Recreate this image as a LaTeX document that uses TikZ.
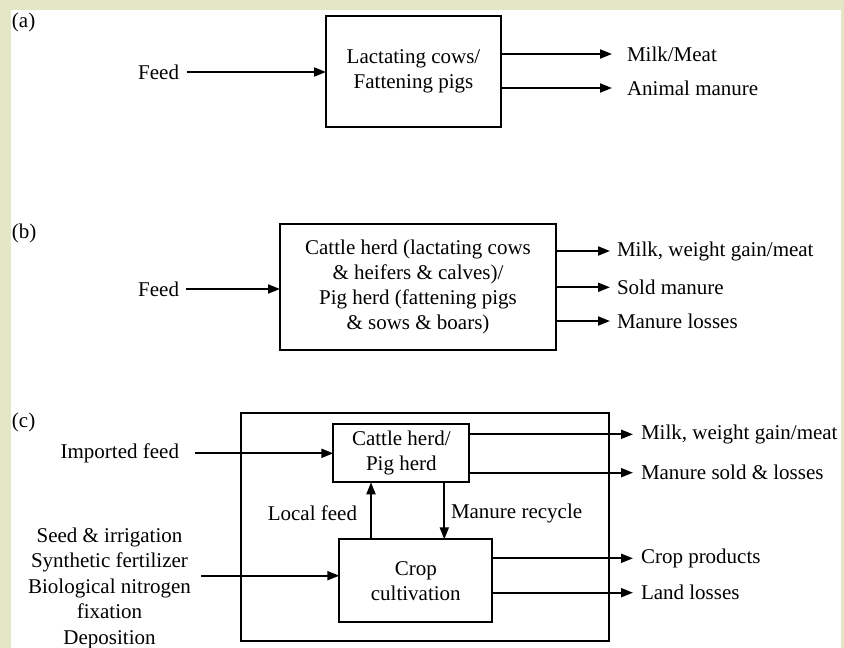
\documentclass[tikz,border=0pt]{standalone}
\usepackage{fontspec}
\setmainfont{Liberation Serif}
\usetikzlibrary{arrows.meta}
\definecolor{bgc}{RGB}{227,231,198}
\begin{document}
\begin{tikzpicture}[x=1pt,y=-1pt,
  font=\fontsize{21}{25}\selectfont,
  ln/.style={line width=2pt},
  arr/.style={ln,-{Triangle[length=12pt,width=9pt]}},
  box/.style={draw,ln,align=center,inner sep=0pt,outer sep=0pt},
  lab/.style={inner sep=0pt,outer sep=0pt},
  ]
\useasboundingbox (0,0) rectangle (844,648);
\fill[bgc] (0,0) rectangle (844,648);
\fill[white] (11,10) rectangle (841,648);

% ---------- (a)
\node[lab,anchor=west] (la) at (12,22.5) {(a)};
\node[box,minimum width=175pt,minimum height=111pt] (boxA) at (413.5,71.5) {Lactating cows/\\Fattening pigs};
\node[lab,anchor=east,inner xsep=8pt] (feedA) at (187,72) {Feed};
\draw[arr] (feedA.east) -- (feedA.east -| boxA.west);
\node[lab,anchor=west,inner xsep=15pt] (milkA) at (612,54) {Milk/Meat};
\node[lab,anchor=west,inner xsep=15pt] (manA) at (612,88) {Animal manure};
\draw[arr] (milkA.west -| boxA.east) -- (milkA.west);
\draw[arr] (manA.west -| boxA.east) -- (manA.west);

% ---------- (b)
\node[lab,anchor=west] (lb) at (12,233) {(b)};
\node[box,minimum width=276pt,minimum height=126pt] (boxB) at (418,287) {Cattle herd (lactating cows\\\& heifers \& calves)/\\Pig herd (fattening pigs\\\& sows \& boars)};
\node[lab,anchor=east,inner xsep=7pt] (feedB) at (186,289) {Feed};
\draw[arr] (feedB.east) -- (feedB.east -| boxB.west);
\node[lab,anchor=west,inner xsep=7pt] (milkB) at (610,251) {Milk, weight gain/meat};
\node[lab,anchor=west,inner xsep=7pt] (soldB) at (610,287.3) {Sold manure};
\node[lab,anchor=west,inner xsep=7pt] (lossB) at (610,321) {Manure losses};
\draw[arr] (milkB.west -| boxB.east) -- (milkB.west);
\draw[arr] (soldB.west -| boxB.east) -- (soldB.west);
\draw[arr] (lossB.west -| boxB.east) -- (lossB.west);

% ---------- (c)
\node[lab,anchor=west] (lc) at (12,422) {(c)};
\node[draw,ln,minimum width=368pt,minimum height=228pt,inner sep=0pt,outer sep=0pt] (farm) at (425,527) {};
\node[box,fill=white,minimum width=136pt,minimum height=58pt] (herd) at (401.3,453.3) {Cattle herd/\\Pig herd};
\node[box,fill=white,minimum width=153pt,minimum height=83pt] (crop) at (415.8,580.8) {Crop\\cultivation};
\node[lab,anchor=east,inner xsep=16pt] (impf) at (195,453.3) {Imported feed};
\draw[arr] (impf.east) -- (herd.west);
\node[lab,align=center,font=\fontsize{21}{25.5}\selectfont] (inputs) at (109.5,588) {Seed \& irrigation\\Synthetic fertilizer\\Biological nitrogen\\fixation\\Deposition};
\coordinate (cin) at (201,575.7);
\draw[arr] (cin) -- (cin -| crop.west);
\coordinate (lfx) at (371,0);
\coordinate (mrx) at (444.3,0);
\draw[arr] (crop.north -| lfx) -- (herd.south -| lfx);
\draw[arr] (herd.south -| mrx) -- (crop.north -| mrx);
\node[lab,anchor=east] (lf) at (357,513) {Local feed};
\node[lab,anchor=west] (mr) at (451,513) {Manure recycle};
\node[lab,anchor=west,inner xsep=8pt] (milkC) at (633,434.3) {Milk, weight gain/meat};
\node[lab,anchor=west,inner xsep=8pt] (manC) at (633,472.7) {Manure sold \& losses};
\node[lab,anchor=west,inner xsep=8pt] (cropC) at (633,558.3) {Crop products};
\node[lab,anchor=west,inner xsep=8pt] (landC) at (633,592.7) {Land losses};
\draw[arr] (milkC.west -| herd.east) -- (milkC.west);
\draw[arr] (manC.west -| herd.east) -- (manC.west);
\draw[arr] (cropC.west -| crop.east) -- (cropC.west);
\draw[arr] (landC.west -| crop.east) -- (landC.west);
\end{tikzpicture}
\end{document}
